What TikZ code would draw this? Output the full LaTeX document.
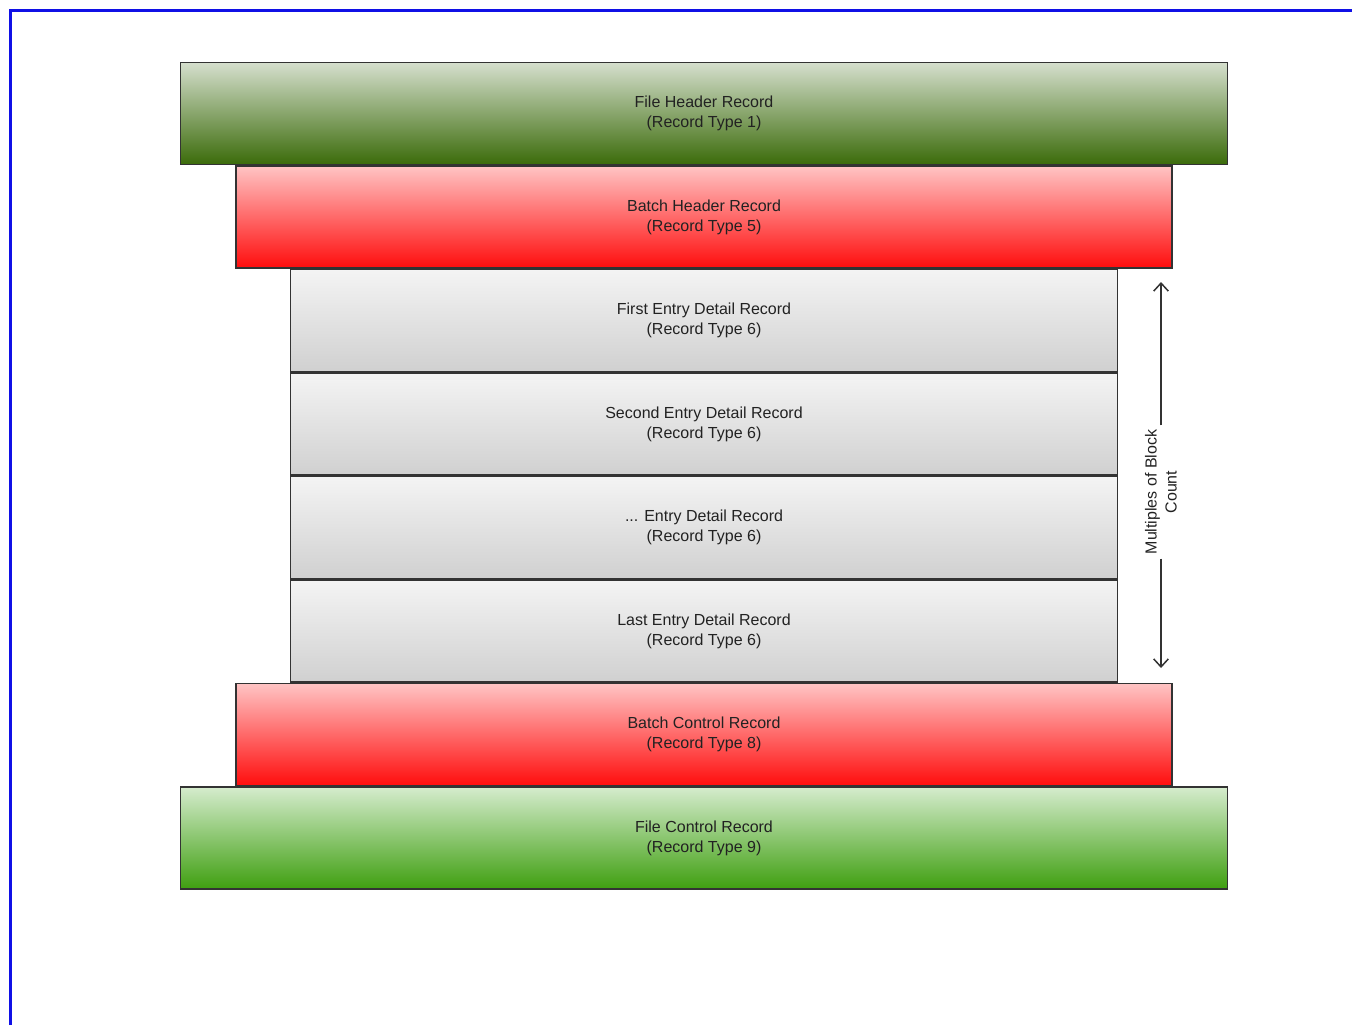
\documentclass[tikz,border=0pt]{standalone}
\usepackage{fontspec}
\setmainfont{Liberation Sans}
\usetikzlibrary{positioning,arrows.meta}

\newlength{\pxu}
\setlength{\pxu}{0.75pt}

\definecolor{frameblue}{HTML}{1010E6}
\definecolor{recline}{HTML}{333333}
\definecolor{rectext}{HTML}{222222}
\definecolor{fhtop}{HTML}{D5DFCD}
\definecolor{fhbot}{HTML}{3B6B0A}
\definecolor{bhtop}{HTML}{FFC4C4}
\definecolor{bhbot}{HTML}{FF0D0D}
\definecolor{entop}{HTML}{F4F4F4}
\definecolor{enbot}{HTML}{D0D0D0}
\definecolor{fctop}{HTML}{D5ECCD}
\definecolor{fcbot}{HTML}{3F9F10}

\tikzset{
  rec/.style={draw=recline, line width=1.5\pxu, minimum height=102\pxu,
    inner sep=0pt, align=center, text=rectext,
    font=\fontsize{12}{15}\selectfont},
  filehead/.style={rec, minimum width=1047\pxu, top color=fhtop, bottom color=fhbot},
  batchrec/.style={rec, minimum width=936\pxu, top color=bhtop, bottom color=bhbot},
  entryrec/.style={rec, minimum width=827\pxu, top color=entop, bottom color=enbot},
  filectrl/.style={rec, minimum width=1047\pxu, top color=fctop, bottom color=fcbot},
  cntarrow/.style={-{Straight Barb[length=6pt, width=11pt]}, draw=recline,
    line width=1.5\pxu}
}

\begin{document}
\begin{tikzpicture}[x=\pxu, y=-\pxu, node distance=0pt]
  \useasboundingbox (0,0) rectangle (1352,1025);
  % frame
  \draw[frameblue, line width=3\pxu] (10,1025) -- (10,10) -- (1352,10);

  % the stack of records
  \node[filehead] (fhr) at (704,113.5) {File Header Record\\(Record Type 1)};
  \node[batchrec, below=of fhr] (bhr) {Batch Header Record\\(Record Type 5)};
  \node[entryrec, below=of bhr] (ent1) {First Entry Detail Record\\(Record Type 6)};
  \node[entryrec, below=of ent1] (ent2) {Second Entry Detail Record\\(Record Type 6)};
  \node[entryrec, below=of ent2] (ent3) {... Entry Detail Record\\(Record Type 6)};
  \node[entryrec, below=of ent3] (ent4) {Last Entry Detail Record\\(Record Type 6)};
  \node[batchrec, below=of ent4] (bcr) {Batch Control Record\\(Record Type 8)};
  \node[filectrl, below=of bcr] (fcr) {File Control Record\\(Record Type 9)};

  % block count
  \coordinate (cnttop) at (1161,282);
  \coordinate (cntbot) at (1161,668);
  \node[rotate=90, align=center, text=rectext, inner sep=4\pxu,
    font=\fontsize{12}{15}\selectfont] (mult) at (1161,492) {Multiples of Block\\Count};
  \draw[cntarrow] (mult) -- (cnttop);
  \draw[cntarrow] (mult) -- (cntbot);
\end{tikzpicture}
\end{document}
